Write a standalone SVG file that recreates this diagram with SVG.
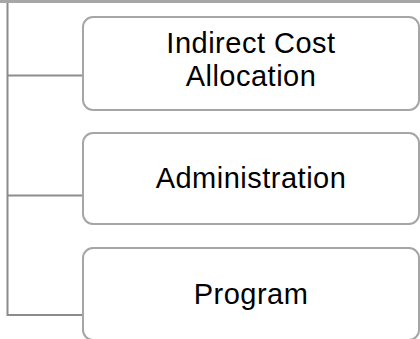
<svg xmlns="http://www.w3.org/2000/svg" width="420" height="339" viewBox="0 0 420 339">
<style>
.box{fill:#ffffff;stroke:#a6a6a6;stroke-width:2}
.conn{fill:none;stroke:#8c8c8c;stroke-width:2}
.lbl{font-family:"Liberation Sans",Arial,sans-serif;font-size:29px;letter-spacing:0.5px;fill:#000000;text-anchor:middle}
</style>
<rect x="0" y="0" width="420" height="339" fill="#ffffff"/>
<rect id="topbar" x="0" y="0" width="420" height="3" fill="#a6a6a6"/>
<g id="connectors">
<path class="conn" d="M7.5,3 V315 H84"/>
<path class="conn" d="M7.5,75.5 H84"/>
<path class="conn" d="M7.5,195.5 H84"/>
</g>
<g id="node-indirect">
<rect class="box" x="83" y="17" width="336" height="93" rx="10"/>
<text class="lbl" x="251" y="52.5">Indirect Cost</text>
<text class="lbl" x="251" y="85.5">Allocation</text>
</g>
<g id="node-administration">
<rect class="box" x="83" y="133" width="336" height="91" rx="10"/>
<text class="lbl" x="251" y="188">Administration</text>
</g>
<g id="node-program">
<rect class="box" x="83" y="248" width="336" height="92" rx="10"/>
<text class="lbl" x="251" y="304">Program</text>
</g>
</svg>
